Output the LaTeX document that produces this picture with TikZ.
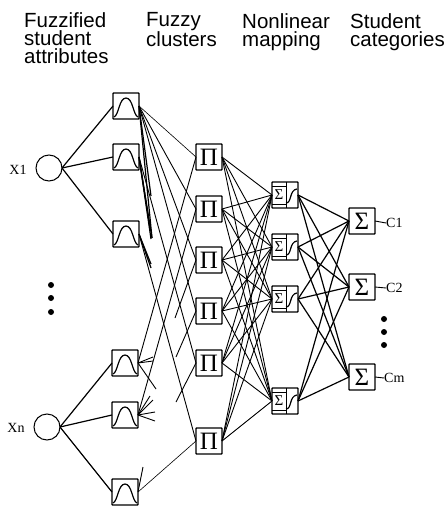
\documentclass[tikz,border=0pt]{standalone}
\usepackage{fontspec}
\setmainfont{Liberation Sans}
\newfontfamily\serifl{Liberation Serif}
\begin{document}
\begin{tikzpicture}[x=1pt,y=-1pt,
  unitbox/.style={draw=black,line width=1.3pt,minimum size=26pt,inner sep=0pt,outer sep=0pt,rounded corners=0.6pt},
  inputcircle/.style={circle,draw=black,line width=1pt,minimum size=26pt,inner sep=0pt,outer sep=0pt},
  header/.style={anchor=north west,align=left,inner sep=0pt,font=\fontsize{20.5}{18}\selectfont},
  varlabel/.style={inner sep=0pt,font=\serifl\fontsize{14}{14}\selectfont},
  thinline/.style={line width=0.6pt},
  midline/.style={line width=0.9pt},
  thickline/.style={line width=1.2pt},
  glyph/.style={line width=1.2pt},
  dotmark/.style={circle,fill=black,minimum size=6pt,inner sep=0pt},
  piglyph/.style={inner sep=0pt,font=\serifl\fontsize{25}{25}\selectfont},
  sumglyph/.style={inner sep=0pt,font=\serifl\fontsize{25}{25}\selectfont},
  smallsum/.style={inner sep=0pt,font=\serifl\fontsize{15}{15}\selectfont}]
\useasboundingbox (0,0) rectangle (447,508);
% headers
\node[header] (h1) at (24,12) {Fuzzified\\student\\attributes};
\node[header] (h2) at (146,12) {Fuzzy\\clusters};
\node[header] (h3) at (242,13) {Nonlinear\\mapping};
\node[header] (h4) at (350,13) {Student\\categories};
% inputs
\node[inputcircle] (x1) at (49,168) {};
\node[inputcircle] (xn) at (47,427) {};
\node[varlabel] (lx1) at (18,170) {X1};
\node[varlabel] (lxn) at (16,428) {Xn};
% fuzzifiers
\foreach \n/\x/\y in {F1/126/106,F2/126/157,F3/126/234,F4/125/363,F5/125/415,F6/125/492}{
  \node[unitbox] (\n) at (\x,\y) {};
  \draw[glyph,shift={(\x,\y)}] (-12,11) .. controls (-7,9) and (-7,-8) .. (0,-8) .. controls (7,-8) and (7,9) .. (12,11);
}
% clusters
\foreach \n/\y in {P1/157,P2/209,P3/260,P4/311,P5/363,P6/441}{
  \node[unitbox] (\n) at (209,\y) {};
  \node[piglyph] (\n-g) at (209,\y) {Π};
}
% mapping
\foreach \n/\y in {S1/195,S2/247,S3/299,S4/401}{
  \node[unitbox] (\n) at (285,\y) {};
  \node[smallsum] (\n-g) at (279,\y) {Σ};
  \draw[line width=0.9pt,shift={(285,\y)}] (1,-13) -- (1,13) (-13,-9) -- (1,-9) (-13,9) -- (1,9);
  \draw[glyph,shift={(285,\y)}] (1,8) .. controls (7,8) and (4,-5) .. (12,-6);
}
% categories
\foreach \n/\y in {C1/221,C2/287,C3/377}{
  \node[unitbox] (\n) at (362,\y) {};
  \node[sumglyph] (\n-g) at (362,\y) {Σ};
}
\node[varlabel,anchor=west] (lc1) at (386,223) {C1};
\node[varlabel,anchor=west] (lc2) at (386,288) {C2};
\node[varlabel,anchor=west] (lc3) at (384,378) {Cm};
\draw[midline] (C1.east) -- (lc1.west);
\draw[midline] (C2.east) -- (lc2.west);
\draw[midline] (C3.east) -- (lc3.west);
% dots
\node[dotmark] (d1) at (51,285) {};
\node[dotmark] (d2) at (51,298) {};
\node[dotmark] (d3) at (51,312) {};
\node[dotmark] (d4) at (384,319) {};
\node[dotmark] (d5) at (384,332) {};
\node[dotmark] (d6) at (384,345) {};
% input to fuzzifier
\foreach \a/\b in {x1/F1,x1/F2,x1/F3,xn/F4,xn/F5,xn/F6}
  \draw[thickline] (\a.east) -- (\b.west);
% fuzzifier to cluster, full lines
\draw[thinline] (F1.east) -- (P1.west);
\foreach \a/\b in {F1/P2,F1/P3,F1/P4,F2/P5,F3/P6,F4/P1,F5/P2}
  \draw[midline] (\a.east) -- (\b.west);
\draw[thinline] (F6.east) -- (P6.west);
% cut-off lines at the clusters
\coordinate (t3) at (175,318);
\coordinate (t4) at (176,357);
\coordinate (t5) at (176,402);
\foreach \a/\b in {P3/t3,P4/t4,P5/t5}
  \draw[midline] (\a.west) -- (\b);
% cut-off lines at the fuzzifiers
\coordinate (u1) at (151,239);
\coordinate (u2) at (150,228);
\coordinate (u3) at (152,238);
\coordinate (u4) at (151,268);
\coordinate (u5) at (151,264);
\coordinate (u6) at (153,357);
\coordinate (u7) at (153,361);
\coordinate (u8) at (156,389);
\coordinate (u9) at (150,396);
\coordinate (u10) at (153,400);
\coordinate (u11) at (155,412);
\coordinate (u12) at (155,421);
\coordinate (u13) at (143,467);
\coordinate (u14) at (151,196);
\foreach \a/\b in {F2/u1,F2/u2,F2/u3,F1/u14,F1/u3,F3/u4,F3/u5}
  \draw[thickline] (\a.east) -- (\b);
\foreach \a/\b in {F4/u6,F4/u7,F4/u8,F5/u9,F5/u10,F5/u11,F5/u12,F6/u13}
  \draw[midline] (\a.east) -- (\b);
% cluster to mapping
\foreach \a in {P1,P2,P3,P4,P5,P6}
  \foreach \b in {S1,S2,S3,S4}
    \draw[midline] (\a.east) -- (\b.west);
% mapping to category
\foreach \a in {S1,S2,S3,S4}
  \foreach \b in {C1,C2,C3}
    \draw[thickline] (\a.east) -- (\b.west);
\end{tikzpicture}
\end{document}
